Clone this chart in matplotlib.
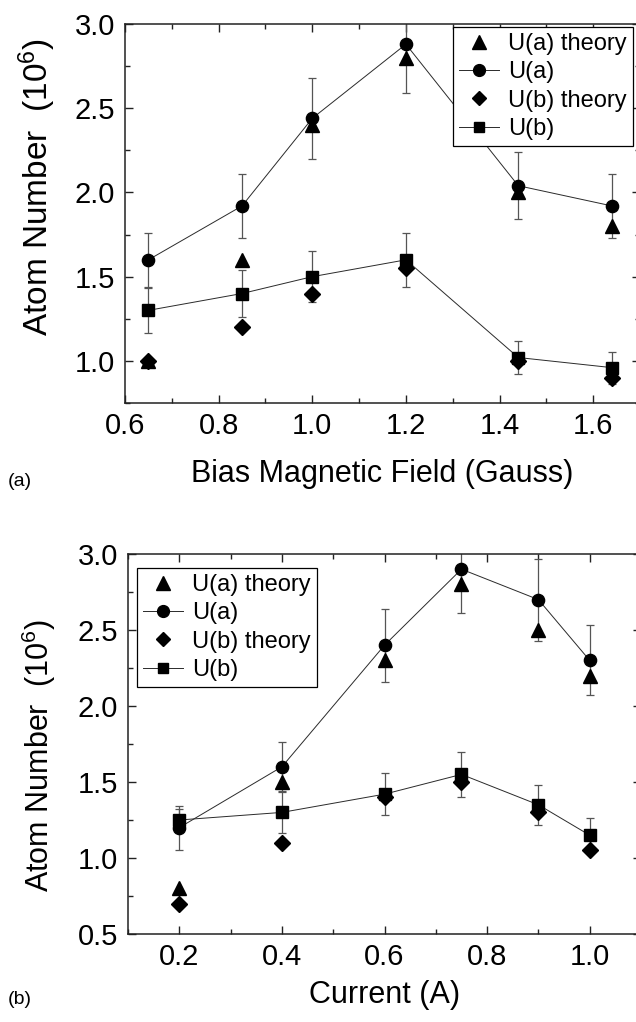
import matplotlib
matplotlib.use('Agg')
import matplotlib.pyplot as plt
from matplotlib.lines import Line2D
from matplotlib.ticker import MultipleLocator, FormatStrFormatter

plt.rcParams['font.family'] = ['Liberation Sans', 'DejaVu Sans']
plt.rcParams['mathtext.fontset'] = 'custom'
plt.rcParams['mathtext.rm'] = 'Liberation Sans'
plt.rcParams['mathtext.default'] = 'regular'

# panel (a): bias magnetic field
field = [0.65, 0.85, 1.0, 1.2, 1.44, 1.64]
ua_theory_a = [1.0, 1.6, 2.4, 2.8, 2.0, 1.8]
ua_a = [1.6, 1.92, 2.44, 2.88, 2.04, 1.92]
ua_err_a = [0.16, 0.19, 0.24, 0.29, 0.20, 0.19]
ub_theory_a = [1.0, 1.2, 1.4, 1.55, 1.0, 0.9]
ub_a = [1.3, 1.4, 1.5, 1.6, 1.02, 0.96]
ub_err_a = [0.135, 0.14, 0.15, 0.16, 0.10, 0.095]

# panel (b): current
current = [0.2, 0.4, 0.6, 0.75, 0.9, 1.0]
ua_theory_b = [0.8, 1.5, 2.3, 2.8, 2.5, 2.2]
ua_b = [1.2, 1.6, 2.4, 2.9, 2.7, 2.3]
ua_err_b = [0.145, 0.16, 0.24, 0.29, 0.27, 0.23]
ub_theory_b = [0.7, 1.1, 1.4, 1.5, 1.3, 1.05]
ub_b = [1.25, 1.3, 1.42, 1.55, 1.35, 1.15]
ub_err_b = [0.07, 0.135, 0.14, 0.15, 0.13, 0.11]

names = ['U(a) theory', 'U(a)', 'U(b) theory', 'U(b)']

W, H = 636, 1022
fig = plt.figure(figsize=(W / 100, H / 100), dpi=100)

def box(l, t, r, b):
    return [l / W, 1 - b / H, (r - l) / W, (b - t) / H]

ax1 = fig.add_axes(box(125, 24, 640, 403))
ax2 = fig.add_axes(box(128, 554, 641, 934))

line_c = '#2a2a2a'
err_c = '#555555'

def draw(ax, x, ta, a, ea, tb, b, eb):
    ax.plot(x, ta, linestyle='none', marker='^', ms=10, color='black', zorder=3)
    ax.plot(x, tb, linestyle='none', marker='D', ms=8, color='black', zorder=3)
    for y, e in [(a, ea), (b, eb)]:
        ax.errorbar(x, y, yerr=e, fmt='none', ecolor=err_c, elinewidth=0.9,
                    capsize=2.7, capthick=0.9, zorder=2)
    ax.plot(x, a, marker='o', ms=8.8, color=line_c, mfc='black', mec='black', lw=0.7, zorder=4)
    ax.plot(x, b, marker='s', ms=8.5, color=line_c, mfc='black', mec='black', lw=0.7, zorder=4)

draw(ax1, field, ua_theory_a, ua_a, ua_err_a, ub_theory_a, ub_a, ub_err_a)
draw(ax2, current, ua_theory_b, ua_b, ua_err_b, ub_theory_b, ub_b, ub_err_b)

ax1.set_xlim(0.6, 1.7)
ax1.set_ylim(0.75, 3.0)
ax2.set_xlim(0.1, 1.1)
ax2.set_ylim(0.5, 3.0)

handles = [
    Line2D([], [], linestyle='none', marker='^', ms=10, color='black'),
    Line2D([], [], color=line_c, lw=0.7, marker='o', ms=8.5, mfc='black', mec='black'),
    Line2D([], [], linestyle='none', marker='D', ms=7.5, color='black'),
    Line2D([], [], color=line_c, lw=0.7, marker='s', ms=7, mfc='black', mec='black'),
]

for ax, anchor in [(ax1, (453, 27)), (ax2, (137, 568))]:
    ax.xaxis.set_major_locator(MultipleLocator(0.2))
    ax.xaxis.set_minor_locator(MultipleLocator(0.1))
    ax.yaxis.set_major_locator(MultipleLocator(0.5))
    ax.yaxis.set_minor_locator(MultipleLocator(0.25))
    ax.xaxis.set_major_formatter(FormatStrFormatter('%.1f'))
    ax.yaxis.set_major_formatter(FormatStrFormatter('%.1f'))
    ax.tick_params(which='both', direction='in', top=True, right=True, labelsize=21,
                   width=1, color='#222222')
    ax.tick_params(which='major', length=5.5)
    ax.tick_params(which='minor', length=3.5)
    ax.tick_params(axis='x', pad=6.2)
    ax.tick_params(axis='y', pad=7)
    for s in ax.spines.values():
        s.set_linewidth(1.1)
        s.set_color('#222222')
    leg = ax.legend(handles, names, loc='upper left',
                    bbox_to_anchor=(anchor[0] / W, 1 - anchor[1] / H),
                    bbox_transform=fig.transFigure, borderaxespad=0,
                    fontsize=17, frameon=True, fancybox=False, edgecolor='black',
                    framealpha=1, handlelength=1.7, handletextpad=0.38,
                    labelspacing=0.27, borderpad=0.25)
    leg.get_frame().set_linewidth(0.9)

ax1.set_ylabel('Atom Number  (10$^6$)', fontsize=24)
ax1.yaxis.set_label_coords((58 - 125) / 515, 0.57)
ax2.set_ylabel('Atom Number  (10$^6$)', fontsize=22)
ax2.yaxis.set_label_coords((58 - 128) / 513, 0.468)

ax1.set_xlabel('Bias Magnetic Field (Gauss)', fontsize=22)
ax1.xaxis.set_label_coords(0.5, -0.148)
ax2.set_xlabel('Current (A)', fontsize=22)
ax2.xaxis.set_label_coords(0.5, -0.121)

fig.text(20 / W, 1 - 482 / H, '(a)', fontsize=14, ha='center', va='center')
fig.text(20 / W, 1 - 1000 / H, '(b)', fontsize=14, ha='center', va='center')

fig.savefig('out.png', dpi=100)
